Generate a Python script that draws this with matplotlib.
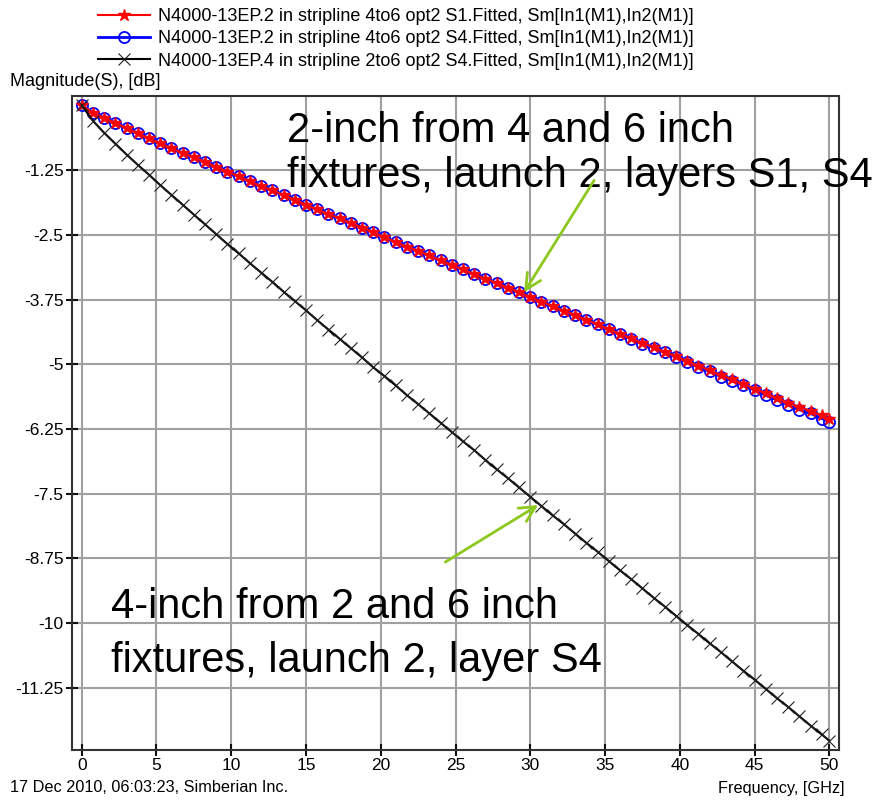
import numpy as np
import matplotlib
matplotlib.use("Agg")
import matplotlib.pyplot as plt

plt.rcParams["font.family"] = ["Liberation Sans", "DejaVu Sans"]

# frequency points, GHz
freq = [0.0, 0.75, 1.5, 2.25, 3.0, 3.75, 4.5, 5.25, 6.0, 6.75, 7.5, 8.25, 9.0, 9.75,
        10.5, 11.25, 12.0, 12.75, 13.5, 14.25, 15.0, 15.75, 16.5, 17.25, 18.0, 18.75,
        19.5, 20.25, 21.0, 21.75, 22.5, 23.25, 24.0, 24.75, 25.5, 26.25, 27.0, 27.75,
        28.5, 29.25, 30.0, 30.75, 31.5, 32.25, 33.0, 33.75, 34.5, 35.25, 36.0, 36.75,
        37.5, 38.25, 39.0, 39.75, 40.5, 41.25, 42.0, 42.75, 43.5, 44.25, 45.0, 45.75,
        46.5, 47.25, 48.0, 48.75, 49.5, 50.0]

# 2-inch, layer S1 (dB)
s1_db = [0.0, -0.14, -0.24, -0.34, -0.44, -0.54, -0.64, -0.73, -0.83, -0.92,
         -1.00, -1.09, -1.19, -1.28, -1.37, -1.47, -1.56, -1.64, -1.73, -1.82,
         -1.92, -2.01, -2.10, -2.18, -2.27, -2.36, -2.45, -2.55, -2.64, -2.73,
         -2.81, -2.90, -2.99, -3.08, -3.17, -3.26, -3.35, -3.43, -3.52, -3.61,
         -3.70, -3.79, -3.88, -3.97, -4.05, -4.14, -4.23, -4.32, -4.41, -4.50,
         -4.59, -4.67, -4.76, -4.85, -4.94, -5.03, -5.12, -5.21, -5.29, -5.38,
         -5.47, -5.56, -5.65, -5.74, -5.83, -5.90, -5.99, -6.05]

# 2-inch, layer S4 (dB)
s4_db = [0.0, -0.14, -0.24, -0.34, -0.44, -0.54, -0.64, -0.73, -0.83, -0.92,
         -1.00, -1.09, -1.19, -1.28, -1.37, -1.47, -1.56, -1.64, -1.73, -1.82,
         -1.92, -2.01, -2.10, -2.18, -2.27, -2.36, -2.45, -2.55, -2.64, -2.73,
         -2.81, -2.90, -2.99, -3.08, -3.17, -3.26, -3.35, -3.43, -3.52, -3.61,
         -3.70, -3.79, -3.88, -3.97, -4.05, -4.14, -4.23, -4.32, -4.42, -4.51,
         -4.60, -4.68, -4.77, -4.87, -4.96, -5.05, -5.14, -5.24, -5.32, -5.41,
         -5.50, -5.60, -5.69, -5.79, -5.88, -5.95, -6.05, -6.11]

# 4-inch, layer S4 (dB)
l4_db = [0.0, -0.30, -0.53, -0.74, -0.95, -1.15, -1.34, -1.54, -1.73, -1.92,
         -2.11, -2.30, -2.49, -2.68, -2.86, -3.05, -3.23, -3.41, -3.60, -3.78,
         -3.96, -4.15, -4.33, -4.51, -4.69, -4.87, -5.06, -5.23, -5.41, -5.60,
         -5.77, -5.95, -6.13, -6.31, -6.49, -6.66, -6.85, -7.03, -7.20, -7.38,
         -7.56, -7.74, -7.92, -8.09, -8.27, -8.45, -8.62, -8.80, -8.98, -9.15,
         -9.33, -9.51, -9.68, -9.86, -10.04, -10.21, -10.39, -10.56, -10.74, -10.92,
         -11.09, -11.27, -11.45, -11.62, -11.80, -11.98, -12.15, -12.27]

labels = [
    "N4000-13EP.2 in stripline 4to6 opt2 S1.Fitted, Sm[In1(M1),In2(M1)]",
    "N4000-13EP.2 in stripline 4to6 opt2 S4.Fitted, Sm[In1(M1),In2(M1)]",
    "N4000-13EP.4 in stripline 2to6 opt2 S4.Fitted, Sm[In1(M1),In2(M1)]",
]
x_ticks = [0, 5, 10, 15, 20, 25, 30, 35, 40, 45, 50]
y_ticks = [-1.25, -2.5, -3.75, -5, -6.25, -7.5, -8.75, -10, -11.25]

W, H = 887, 802
fig = plt.figure(figsize=(W / 100, H / 100), dpi=100)
ax = fig.add_axes([72 / W, 1 - 750 / H, (839 - 72) / W, (750 - 96) / H])

l_blue, = ax.plot(freq, s4_db, color="blue", lw=2, marker="o", ms=8,
                  mfc="none", mec="blue", mew=1.3, zorder=3)
l_red, = ax.plot(freq, s1_db, color="red", lw=1.5, marker="*", ms=9,
                 mfc="red", mec="red", mew=1, zorder=4)
l_blk, = ax.plot(freq, l4_db, color="black", lw=1.5, marker="x", ms=9,
                 mec="#222222", mew=0.8, zorder=5)

ax.set_xlim(-0.65, 50.65)
ax.set_ylim(-12.45, 0.18)
ax.set_xticks(x_ticks)
ax.set_yticks(y_ticks)
ax.set_yticklabels([f"{v:g}" for v in y_ticks])
ax.grid(True, color="#a0a0a0", lw=1.5)
ax.set_axisbelow(True)
ax.tick_params(direction="inout", length=8, width=1.5, labelsize=12.5,
               color="#111111", pad=2)
for sp in ax.spines.values():
    sp.set_color("#333333")
    sp.set_linewidth(1.5)

fig.legend([l_red, l_blue, l_blk], labels, loc="upper left",
           bbox_to_anchor=(89 / W, 1 + 1 / H), frameon=False, fontsize=13,
           handlelength=2.9, handletextpad=0.4, labelspacing=0.29,
           borderpad=0, numpoints=1)

fig.text(10 / W, 1 - 82 / H, "Magnitude(S), [dB]", fontsize=13, va="center")
fig.text(10 / W, 1 - 788 / H, "17 Dec 2010, 06:03:23, Simberian Inc.",
         fontsize=11.7, va="center")
fig.text(845 / W, 1 - 788 / H, "Frequency, [GHz]", fontsize=11.7,
         va="center", ha="right")

big = dict(fontsize=30, color="black", zorder=6)
ax.text(13.76, -0.714, "2-inch from 4 and 6 inch", **big)
ax.text(13.76, -1.583, "fixtures, launch 2, layers S1, S4", **big)
ax.text(1.94, -9.90, "4-inch from 2 and 6 inch", **big)
ax.text(1.94, -10.95, "fixtures, launch 2, layer S4", **big)

arrow = dict(arrowstyle="->", color="#8cc81e", lw=2, mutation_scale=28,
             shrinkA=0, shrinkB=0)
ax.annotate("", xy=(29.59, -3.61), xytext=(34.27, -1.45), arrowprops=arrow,
            zorder=7)
ax.annotate("", xy=(30.53, -7.72), xytext=(24.32, -8.82), arrowprops=arrow,
            zorder=7)

fig.savefig("out.png", dpi=100, facecolor="white")
